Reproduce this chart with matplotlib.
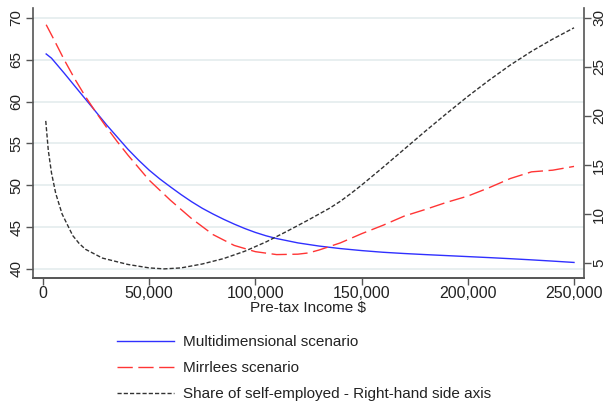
import matplotlib
matplotlib.use("Agg")
import matplotlib.pyplot as plt
from matplotlib.ticker import FuncFormatter, FixedLocator

plt.rcParams['font.family'] = ['Liberation Sans', 'DejaVu Sans']

# Marginal tax rates by pre-tax income (left axis, %)
income_multi = [1500, 4000, 10000, 20000, 30000, 40000, 45000, 50000, 55000, 60000,
                65000, 70000, 75000, 80000, 85000, 90000, 95000, 100000, 105000,
                110000, 120000, 130000, 140000, 150000, 160000, 170000, 180000,
                190000, 200000, 210000, 220000, 230000, 240000, 250000]
rate_multi = [65.7, 65.2, 63.4, 60.3, 57.2, 54.3, 53.0, 51.8, 50.75, 49.8,
              48.88, 48.02, 47.24, 46.56, 45.93, 45.35, 44.82, 44.35, 43.95,
              43.62, 43.1, 42.72, 42.42, 42.18, 41.98, 41.83, 41.7,
              41.58, 41.46, 41.34, 41.21, 41.07, 40.92, 40.76]

income_mirr = [1500, 5000, 10000, 15000, 20000, 25000, 30000, 35000, 40000, 45000,
               50000, 55000, 60000, 70000, 80000, 90000, 100000, 110000, 120000,
               125000, 130000, 140000, 150000, 160000, 170000, 180000, 190000,
               200000, 210000, 220000, 230000, 240000, 250000]
rate_mirr = [69.2, 67.5, 65.0, 62.7, 60.6, 58.7, 56.9, 55.2, 53.6, 52.1,
             50.6, 49.4, 48.2, 46.0, 44.1, 42.8, 42.05, 41.7, 41.75,
             41.9, 42.25, 43.1, 44.2, 45.2, 46.3, 47.1, 47.95,
             48.7, 49.7, 50.8, 51.6, 51.8, 52.25]

# Share of self-employed (right axis, %)
income_self = [1300, 2500, 4000, 6000, 9000, 14000, 17000, 20000, 28000, 40000,
               50000, 57000, 65000, 75000, 85000, 95000, 105000, 115000, 125000,
               130000, 135000, 140000, 145000, 150000, 155000, 160000, 170000,
               180000, 190000, 200000, 210000, 220000, 230000, 240000, 250000]
share_self = [19.5, 16.5, 14.2, 12.1, 10.0, 7.8, 7.0, 6.4, 5.5, 4.85,
              4.5, 4.4, 4.5, 4.9, 5.45, 6.2, 7.15, 8.25, 9.4,
              10.0, 10.6, 11.3, 12.1, 12.95, 13.85, 14.75, 16.6,
              18.45, 20.25, 22.0, 23.65, 25.2, 26.6, 27.85, 29.0]

x_ticks = [0, 50000, 100000, 150000, 200000, 250000]
left_ticks = [40, 45, 50, 55, 60, 65, 70]
right_ticks = [5, 10, 15, 20, 25, 30]

labels = ["Multidimensional scenario", "Mirrlees scenario",
          "Share of self-employed - Right-hand side axis"]

W, H = 607, 403
fig = plt.figure(figsize=(W / 100, H / 100), dpi=100)
fig.patch.set_facecolor("white")
ax = fig.add_axes([33 / W, 1 - 278 / H, (584 - 33) / W, (278 - 8) / H])
ax2 = ax.twinx()

spine_col = "#555555"
text_col = "#222222"

ax.set_xlim(-4700, 254700)
ax.set_ylim(38.9, 71.2)
ax2.set_ylim(3.47, 31.02)

ax.yaxis.set_major_locator(FixedLocator(left_ticks))
ax2.yaxis.set_major_locator(FixedLocator(right_ticks))
ax.xaxis.set_major_locator(FixedLocator(x_ticks))
ax.xaxis.set_major_formatter(FuncFormatter(lambda v, p: f"{int(v):,}"))

ax.grid(axis="y", color="#e6eeef", linewidth=1.3)
ax.set_axisbelow(True)

l1, = ax.plot(income_multi, rate_multi, color="#3030ff", linewidth=1.0)
l2, = ax.plot(income_mirr, rate_mirr, color="#ff3535", linewidth=1.0,
              dashes=(11, 4))
l3, = ax2.plot(income_self, share_self, color="#333333", linewidth=1.0,
               dashes=(3, 1.5))

for a in (ax, ax2):
    a.spines["top"].set_visible(False)
    for s in ("left", "right", "bottom"):
        a.spines[s].set_color(spine_col)
        a.spines[s].set_linewidth(1.2)
    a.tick_params(colors=spine_col, labelcolor=text_col, labelsize=11,
                  length=5, width=1.0, direction="out")
ax2.spines["left"].set_visible(False)
ax.spines["right"].set_visible(False)
ax.tick_params(axis="x", labelsize=11.5, pad=1)

for t in ax.get_yticklabels() + ax2.get_yticklabels():
    t.set_rotation(90)
    t.set_va("center")
ax.tick_params(axis="y", pad=2)
ax2.tick_params(axis="y", pad=1)

ax.set_xlabel("Pre-tax Income $", fontsize=11, color=text_col, labelpad=0)

fig.legend([l1, l2, l3], labels, loc="upper left",
           bbox_to_anchor=(117 / W, 1 - 335 / H), frameon=False,
           fontsize=11, handlelength=3.7, handletextpad=0.65,
           labelspacing=0.8, borderpad=0, borderaxespad=0,
           labelcolor=text_col)

fig.savefig("out.png", dpi=100, facecolor="white")
